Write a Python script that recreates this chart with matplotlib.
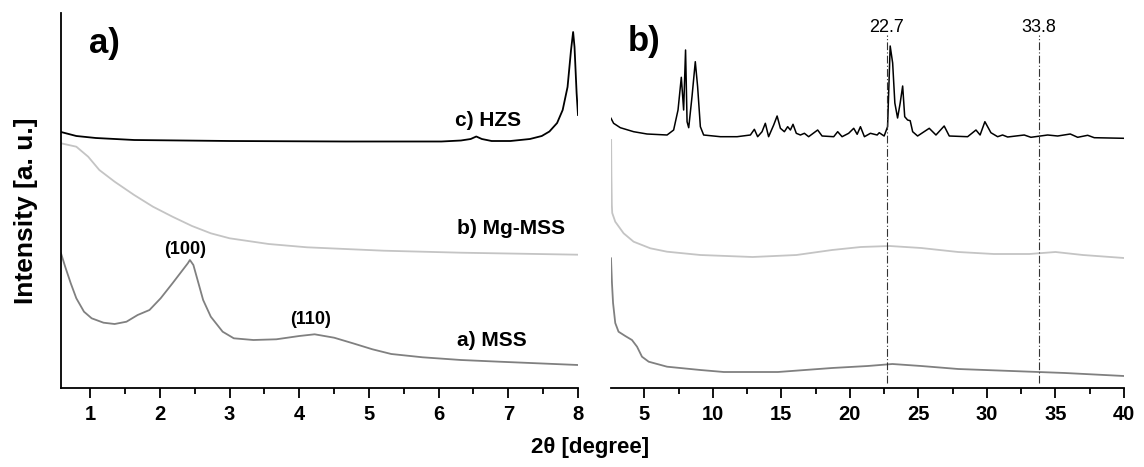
import matplotlib
matplotlib.use("Agg")
import matplotlib.pyplot as plt
from matplotlib.ticker import MultipleLocator

plt.rcParams['font.family'] = ['Liberation Sans', 'DejaVu Sans']

# ---------------- Panel a) data (2theta in degrees, intensity in a.u. with vertical offsets) ----------------
a_hzs_x = [0.58, 0.80, 1.08, 1.63, 3.0, 4.66, 6.04, 6.32, 6.46, 6.54, 6.62, 6.76, 7.03, 7.31, 7.48,
           7.59, 7.70, 7.78, 7.85, 7.90, 7.93, 7.95, 7.98, 8.0]
a_hzs_y = [256, 252, 250, 248, 247, 246.5, 246.5, 247.5, 249, 251.5, 249, 247, 247, 249, 252,
           256.5, 265, 278, 301, 338, 356, 341, 295, 273]

a_mg_x = [0.58, 0.80, 0.97, 1.13, 1.35, 1.63, 1.90, 2.18, 2.46, 2.73, 3.0, 3.56, 4.11, 4.66, 5.21,
          6.32, 7.42, 8.0]
a_mg_y = [244.7, 241.3, 231.3, 218, 206.3, 193, 181.3, 171.3, 162, 154.7, 149.7, 144, 140.7, 139,
          137.3, 135.3, 134, 133.3]

a_mss_x = [0.58, 0.64, 0.72, 0.80, 0.91, 1.02, 1.19, 1.35, 1.52, 1.68, 1.85, 2.01, 2.18, 2.29, 2.40,
           2.43, 2.48, 2.54, 2.62, 2.73, 2.90, 3.06, 3.34, 3.67, 4.0, 4.22, 4.50, 4.77, 5.05, 5.32,
           5.77, 6.32, 6.87, 7.42, 8.0]
a_mss_y = [134.7, 121.3, 104.7, 89.7, 76.3, 69.7, 65.3, 64, 66.3, 73, 78, 89.7, 104.7, 114.7, 124.7,
           128, 123, 108, 88, 71.3, 56.3, 49.7, 48, 48.7, 52, 53.7, 50.3, 44.7, 38.7, 34,
           30.7, 28, 26.3, 24.7, 23]

# ---------------- Panel b) data ----------------
b_hzs_x = [2.57, 2.76, 3.25, 4.22, 5.2, 6.66, 7.14, 7.46, 7.70, 7.87, 8.01, 8.12, 8.24, 8.48, 8.72,
           8.89, 9.09, 9.33, 10.55, 11.77, 12.74, 13.03, 13.27, 13.59, 13.83, 14.07, 14.44, 14.69,
           14.93, 15.22, 15.46, 15.66, 15.85, 16.09, 16.39, 16.68, 16.99, 17.65, 17.97, 18.82,
           19.11, 19.43, 19.91, 20.28, 20.53, 20.77, 21.06, 21.5, 21.99, 22.14, 22.5, 22.75,
           22.94, 23.12, 23.28, 23.48, 23.67, 23.85, 24.0, 24.21, 24.4, 24.58, 24.94, 25.79,
           26.28, 26.88, 27.25, 28.59, 29.2, 29.5, 29.85, 30.29, 30.78, 31.14, 31.51, 32.72,
           33.21, 34.43, 35.16, 36.08, 36.62, 37.35, 37.83, 40.0]
b_hzs_y = [269.7, 264.7, 260.3, 256.3, 254, 253, 258, 278, 310.7, 278, 338, 266.3, 260.3, 291.3, 326.3,
           301.3, 261.3, 253, 251.3, 251.3, 253, 258.7, 251.3, 256.3, 264.7, 251.3, 263, 272,
           259.7, 256.3, 261.3, 258, 263.7, 254.7, 253, 254.7, 251.3, 258, 252, 251.3,
           256.3, 251.3, 254.7, 259.7, 253.7, 261.3, 251.3, 254.7, 253, 255.3, 252, 261.3,
           342, 325, 285, 270, 285, 302, 271.3, 268, 267.3, 256.3, 252, 259.7,
           253, 262, 252, 251.3, 258, 253, 266.3, 255.3, 251.3, 253, 251, 253,
           250.7, 253, 252, 254, 250.7, 252.7, 250.3, 249.7]

b_mg_x = [2.58, 2.60, 2.63, 2.66, 2.88, 3.49, 4.22, 5.44, 6.66, 9.09, 12.9, 16.1, 18.7, 20.8, 22.9,
          25.2, 27.9, 30.5, 33.1, 35.0, 37.0, 40.0]
b_mg_y = [248, 213, 183, 175, 166.3, 154.7, 146.3, 139.7, 136.3, 133, 131, 133, 138, 141, 142,
          140, 136, 134, 134, 136, 133, 130]

b_mss_x = [2.57, 2.64, 2.72, 2.88, 3.12, 3.61, 4.1, 4.47, 4.83, 5.32, 6.66, 9.09, 10.8, 14.75, 18.7,
           21.3, 23.1, 25.2, 27.9, 31.8, 35.7, 40.0]
b_mss_y = [129.7, 105, 85, 65, 56.3, 52, 48, 41.3, 31.3, 26.3, 21.3, 18, 16, 16, 20,
           22, 24, 22, 19, 17, 15, 12]

b_ref_lines = [22.7, 33.8]
b_ref_labels = ["22.7", "33.8"]

a_ticks = [1, 2, 3, 4, 5, 6, 7, 8]
b_ticks = [5, 10, 15, 20, 25, 30, 35, 40]

c_hzs = 'black'
c_mg = '#c4c4c4'
c_mss = '#808080'

fig = plt.figure(figsize=(11.44, 4.67), dpi=100)
axL = fig.add_axes([61/1144, 1 - 388/467, (578-61)/1144, 375/467])
axR = fig.add_axes([611/1144, 1 - 388/467, (1124-611)/1144, 375/467])

lw = 1.3
axL.plot(a_hzs_x, a_hzs_y, color=c_hzs, lw=lw)
axL.plot(a_mg_x, a_mg_y, color=c_mg, lw=lw)
axL.plot(a_mss_x, a_mss_y, color=c_mss, lw=lw)

axR.plot(b_hzs_x, b_hzs_y, color=c_hzs, lw=1.1)
axR.plot(b_mg_x, b_mg_y, color=c_mg, lw=lw)
axR.plot(b_mss_x, b_mss_y, color=c_mss, lw=lw)

for ax, xl, ticks, minor in [(axL, (0.58, 8.0), a_ticks, 0.5), (axR, (2.57, 40.0), b_ticks, 2.5)]:
    ax.set_xlim(*xl)
    ax.set_ylim(0, 375)
    ax.set_xticks(ticks)
    ax.xaxis.set_minor_locator(MultipleLocator(minor))
    ax.set_yticks([])
    ax.spines['top'].set_visible(False)
    ax.spines['right'].set_visible(False)
    ax.spines['bottom'].set_linewidth(1.3)
    ax.spines['left'].set_linewidth(1.3)
    ax.tick_params(axis='x', which='major', direction='out', length=7, width=1.3, pad=5,
                   labelsize=14.5)
    ax.tick_params(axis='x', which='minor', direction='out', length=4, width=1.3)
    for lab in ax.get_xticklabels():
        lab.set_fontweight('bold')

axR.spines['left'].set_visible(False)

for xv, lab in zip(b_ref_lines, b_ref_labels):
    axR.axvline(xv, ymin=0.013, ymax=(388-35)/375, color='#333333', lw=0.8,
                linestyle=(0, (7, 2, 1, 2)))
    axR.text(xv, 361, lab, ha='center', va='center', fontsize=13)

# labels
axL.text(0.98, 345, "a)", ha='left', va='center', fontsize=25, fontweight='bold')
axR.text(3.76, 347, "b)", ha='left', va='center', fontsize=25, fontweight='bold')

axL.text(6.24, 268, "c) HZS", ha='left', va='center', fontsize=15, fontweight='bold')
axL.text(6.26, 160, "b) Mg-MSS", ha='left', va='center', fontsize=15, fontweight='bold')
axL.text(6.26, 48, "a) MSS", ha='left', va='center', fontsize=15, fontweight='bold')
axL.text(2.36, 139, "(100)", ha='center', va='center', fontsize=13, fontweight='bold')
axL.text(4.16, 68, "(110)", ha='center', va='center', fontsize=13, fontweight='bold')

fig.text(26/1144, 1 - 211/467, "Intensity [a. u.]", rotation=90, ha='center', va='center',
         fontsize=19, fontweight='bold')
fig.text(590/1144, 1 - 447/467, "2θ [degree]", ha='center', va='center',
         fontsize=16, fontweight='bold')

fig.savefig("out.png", dpi=100)
